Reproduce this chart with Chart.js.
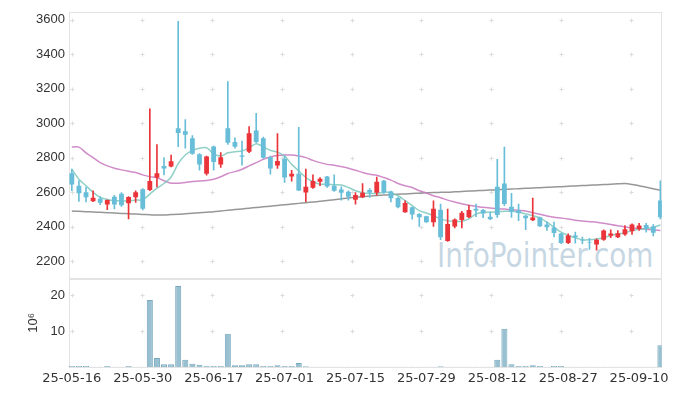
<!DOCTYPE html>
<html>
<head>
<meta charset="utf-8">
<script src="https://cdn.jsdelivr.net/npm/chart.js@4.4.1/dist/chart.umd.min.js"></script>
<style>
  html, body { margin: 0; padding: 0; background: #fff; }
  #wrap { position: relative; width: 673px; height: 396px; }
  #mark { position: absolute; left: 437px; top: 238px; font-family: "DejaVu Sans"; font-size: 34px; line-height: 34px;
          color: rgba(188, 208, 222, 0.85); transform: scaleX(0.82); transform-origin: 0 0; white-space: nowrap; }
  canvas { position: absolute; left: 0; top: 0; }
</style>
</head>
<body>
<div id="wrap">
  <div id="mark">InfoPointer.com</div>
  <canvas id="chart" width="673" height="396"></canvas>
</div>
<script>
// trading days, 2025
const dates = [
  '25-05-16', '25-05-19', '25-05-20', '25-05-21', '25-05-22', '25-05-23', '25-05-26', '25-05-27', '25-05-28', '25-05-29',
  '25-05-30', '25-06-02', '25-06-04', '25-06-05', '25-06-09', '25-06-10', '25-06-11', '25-06-12', '25-06-13', '25-06-16',
  '25-06-17', '25-06-18', '25-06-19', '25-06-20', '25-06-23', '25-06-24', '25-06-25', '25-06-26', '25-06-27', '25-06-30',
  '25-07-01', '25-07-02', '25-07-03', '25-07-04', '25-07-07', '25-07-08', '25-07-09', '25-07-10', '25-07-11', '25-07-14',
  '25-07-15', '25-07-16', '25-07-17', '25-07-18', '25-07-21', '25-07-22', '25-07-23', '25-07-24', '25-07-25', '25-07-28',
  '25-07-29', '25-07-30', '25-07-31', '25-08-01', '25-08-04', '25-08-05', '25-08-06', '25-08-07', '25-08-08', '25-08-11',
  '25-08-12', '25-08-13', '25-08-14', '25-08-18', '25-08-19', '25-08-20', '25-08-21', '25-08-22', '25-08-25', '25-08-26',
  '25-08-27', '25-08-28', '25-08-29', '25-09-01', '25-09-02', '25-09-03', '25-09-04', '25-09-05', '25-09-08', '25-09-09',
  '25-09-10', '25-09-11', '25-09-12', '25-09-15'
];

const opens = [
  2710, 2637, 2600, 2547, 2562, 2529, 2574, 2591, 2535, 2570,
  2617, 2612, 2683, 2752, 2748, 2970, 2953, 2913, 2819, 2706,
  2865, 2760, 2970, 2891, 2813, 2834, 2957, 2913, 2802, 2754,
  2792, 2690, 2706, 2598, 2625, 2660, 2690, 2637, 2616, 2602,
  2556, 2570, 2612, 2596, 2666, 2604, 2566, 2484, 2512, 2474,
  2460, 2426, 2498, 2317, 2401, 2439, 2454, 2504, 2496, 2458,
  2631, 2650, 2516, 2493, 2464, 2437, 2454, 2412, 2395, 2360,
  2305, 2349, 2322, 2309, 2297, 2324, 2347, 2339, 2355, 2374,
  2387, 2409, 2401, 2551
];
const highs = [
  2733, 2666, 2630, 2608, 2574, 2556, 2581, 2597, 2574, 2608,
  2621, 3083, 2876, 2800, 2815, 3590, 3020, 2928, 2823, 2809,
  2867, 2830, 3240, 2915, 2896, 2980, 3056, 2919, 2809, 2940,
  2809, 2727, 2976, 2733, 2700, 2685, 2692, 2700, 2631, 2608,
  2598, 2650, 2621, 2688, 2668, 2606, 2568, 2550, 2514, 2476,
  2462, 2550, 2531, 2502, 2445, 2489, 2523, 2531, 2500, 2485,
  2790, 2861, 2593, 2531, 2466, 2566, 2456, 2426, 2426, 2362,
  2358, 2368, 2339, 2332, 2330, 2382, 2382, 2378, 2407, 2416,
  2420, 2420, 2412, 2665
];
const lows = [
  2608, 2547, 2543, 2545, 2528, 2499, 2503, 2518, 2445, 2541,
  2497, 2608, 2631, 2700, 2746, 2863, 2855, 2819, 2727, 2698,
  2727, 2743, 2876, 2855, 2757, 2829, 2886, 2795, 2704, 2737,
  2656, 2664, 2608, 2545, 2621, 2637, 2628, 2604, 2554, 2554,
  2531, 2568, 2570, 2583, 2593, 2543, 2508, 2482, 2443, 2401,
  2424, 2401, 2324, 2315, 2393, 2393, 2452, 2458, 2452, 2441,
  2454, 2522, 2454, 2435, 2382, 2435, 2400, 2378, 2340, 2301,
  2301, 2305, 2301, 2268, 2264, 2320, 2336, 2336, 2349, 2355,
  2378, 2368, 2347, 2445
];
const closes = [
  2645, 2593, 2570, 2568, 2539, 2554, 2529, 2524, 2572, 2600,
  2504, 2664, 2710, 2737, 2779, 2943, 2932, 2823, 2760, 2806,
  2775, 2802, 2886, 2863, 2805, 2942, 2891, 2800, 2737, 2781,
  2685, 2706, 2610, 2631, 2664, 2677, 2633, 2608, 2597, 2574,
  2583, 2596, 2598, 2660, 2598, 2564, 2512, 2537, 2470, 2455,
  2426, 2504, 2339, 2416, 2441, 2481, 2496, 2493, 2477, 2443,
  2468, 2531, 2487, 2479, 2449, 2453, 2403, 2397, 2364, 2305,
  2349, 2339, 2318, 2305, 2324, 2378, 2361, 2362, 2385, 2412,
  2407, 2389, 2365, 2455
];

const ma5 = [
  2733, 2675, 2637, 2599, 2570, 2558, 2551, 2549, 2549, 2554,
  2556, 2589, 2623, 2650, 2688, 2765, 2815, 2842, 2855, 2857,
  2822, 2809, 2828, 2834, 2838, 2857, 2880, 2863, 2842, 2832,
  2809, 2761, 2723, 2685, 2660, 2646, 2646, 2643, 2641, 2627,
  2608, 2597, 2593, 2593, 2600, 2597, 2579, 2551, 2522, 2493,
  2479, 2464, 2445, 2435, 2431, 2431, 2445, 2474, 2483, 2483,
  2487, 2489, 2489, 2483, 2474, 2464, 2451, 2426, 2397, 2368,
  2349, 2336, 2324, 2324, 2328, 2336, 2349, 2359, 2364, 2378,
  2385, 2389, 2397, 2410
];
const ma20 = [
  2861, 2861, 2828, 2800, 2771, 2752, 2739, 2729, 2721, 2714,
  2700, 2690, 2685, 2666, 2652, 2652, 2656, 2662, 2664, 2668,
  2675, 2689, 2708, 2719, 2733, 2752, 2771, 2790, 2804, 2813,
  2815, 2815, 2809, 2800, 2784, 2771, 2761, 2756, 2748, 2739,
  2727, 2714, 2704, 2698, 2685, 2670, 2650, 2637, 2627, 2608,
  2595, 2579, 2568, 2554, 2543, 2533, 2524, 2518, 2512, 2508,
  2504, 2502, 2498, 2495, 2491, 2481, 2472, 2462, 2454, 2450,
  2445, 2437, 2433, 2429, 2426, 2420, 2412, 2405, 2399, 2393,
  2389, 2385, 2381, 2378
];
const ma60 = [
  2491, 2489, 2487, 2485, 2483, 2481, 2479, 2477, 2475, 2473,
  2471, 2469, 2467, 2468, 2470, 2472, 2475, 2478, 2481, 2484,
  2487, 2491, 2495, 2499, 2503, 2507, 2511, 2515, 2519, 2523,
  2527, 2531, 2535, 2539, 2543, 2547, 2551, 2556, 2561, 2566,
  2570, 2574, 2577, 2580, 2583, 2586, 2588, 2590, 2592, 2594,
  2596, 2598, 2599, 2600, 2602, 2604, 2606, 2608, 2610, 2612,
  2614, 2616, 2618, 2620, 2622, 2624, 2626, 2628, 2630, 2632,
  2634, 2636, 2638, 2640, 2642, 2644, 2646, 2648, 2650, 2645,
  2637, 2629, 2620, 2612
];

// volume, millions of shares
const volume = [
  0.3, 0.3, 0.3, 0.05, 0.05, 0.3, 0.05, 0.05, 0.3, 0.05,
  0.05, 18.7, 2.5, 0.8, 0.8, 22.6, 2.0, 0.9, 0.6, 0.3,
  0.3, 0.3, 9.3, 0.5, 0.5, 0.8, 0.8, 0.3, 0.3, 0.5,
  0.3, 0.3, 1.1, 0.2, 0.05, 0.05, 0.05, 0.05, 0.05, 0.05,
  0.05, 0.05, 0.05, 0.05, 0.05, 0.05, 0.05, 0.05, 0.05, 0.05,
  0.05, 0.05, 0.2, 0.05, 0.05, 0.05, 0.05, 0.05, 0.05, 0.05,
  2.0, 10.7, 0.8, 0.3, 0.3, 0.5, 0.3, 0.05, 0.3, 0.3,
  0.05, 0.05, 0.05, 0.05, 0.05, 0.05, 0.05, 0.05, 0.05, 0.05,
  0.05, 0.05, 0.05, 6.1
];

const priceTicks = [2200, 2400, 2600, 2800, 3000, 3200, 3400, 3600];
const volTicks = [10, 20];
const dateTicks = [0, 10, 20, 30, 40, 50, 60, 70, 80];

const UP = 'rgb(234, 52, 58)';
const DOWN = 'rgb(104, 190, 216)';
const candleColors = closes.map((c, i) => c >= opens[i] ? UP : DOWN);
const pts = arr => arr.map((v, i) => ({ x: i, y: v }));

// panel frames and the little "+" grid marks
const frames = {
  id: 'frames',
  beforeDatasetsDraw(chart) {
    const ctx = chart.ctx, area = chart.chartArea, xs = chart.scales.x;
    const py = chart.scales.y, vy = chart.scales.vol;
    ctx.save();
    ctx.lineWidth = 1;
    ctx.strokeStyle = '#e3e3e3';
    [py, vy].forEach(s => {
      ctx.strokeRect(Math.round(area.left) + 0.5, Math.round(s.top) + 0.5,
        Math.round(area.right - area.left) - 1, Math.round(s.bottom - s.top));
    });
    ctx.strokeStyle = '#dcdcdc';
    const rows = priceTicks.map(v => py.getPixelForValue(v)).concat(volTicks.map(v => vy.getPixelForValue(v)));
    for (let k = 0; k < 9; k++) {
      const x = Math.round(xs.getPixelForValue(k * 9.86)) + 0.5;
      rows.forEach(r => {
        const y = Math.round(r) + 0.5;
        ctx.beginPath();
        ctx.moveTo(x - 2, y); ctx.lineTo(x + 2, y);
        ctx.moveTo(x, y - 2); ctx.lineTo(x, y + 2);
        ctx.stroke();
      });
    }
    ctx.restore();
  }
};

const tickFont = { family: 'Liberation Sans', size: 13 };
const dateFont = { family: 'DejaVu Sans', size: 13 };

new Chart(document.getElementById('chart'), {
  data: {
    datasets: [
      {
        type: 'bar', label: 'body', yAxisID: 'y', order: 0,
        data: opens.map((o, i) => ({ x: i, y: [o, closes[i]] })),
        backgroundColor: candleColors, borderWidth: 0,
        barPercentage: 0.68, categoryPercentage: 1
      },
      {
        type: 'bar', label: 'wick', yAxisID: 'y', order: 1,
        data: lows.map((l, i) => ({ x: i, y: [l, highs[i]] })),
        backgroundColor: candleColors, borderWidth: 0, barThickness: 1
      },
      {
        type: 'line', label: 'MA5', yAxisID: 'y', order: 2, data: pts(ma5),
        borderColor: 'rgba(125, 200, 188, 0.85)', borderWidth: 1.5, pointRadius: 0, tension: 0.3
      },
      {
        type: 'line', label: 'MA20', yAxisID: 'y', order: 2, data: pts(ma20),
        borderColor: 'rgba(200, 120, 190, 0.85)', borderWidth: 1.5, pointRadius: 0, tension: 0.3
      },
      {
        type: 'line', label: 'MA60', yAxisID: 'y', order: 2, data: pts(ma60),
        borderColor: 'rgba(140, 140, 140, 0.9)', borderWidth: 1.5, pointRadius: 0, tension: 0.3
      },
      {
        type: 'bar', label: 'volume', yAxisID: 'vol', order: 3, data: pts(volume),
        backgroundColor: 'rgb(152, 192, 208)', borderColor: 'rgb(120, 168, 190)', borderWidth: 1,
        barPercentage: 0.85, categoryPercentage: 1
      }
    ]
  },
  options: {
    responsive: false,
    animation: false,
    devicePixelRatio: 1,
    layout: { padding: { top: 10, right: 10, left: 0, bottom: 0 } },
    datasets: { bar: { grouped: false } },
    plugins: { legend: { display: false }, tooltip: { enabled: false } },
    scales: {
      x: {
        type: 'linear', position: 'bottom', min: -0.4, max: 83.2, offset: false,
        grid: { display: false, drawTicks: false }, border: { display: false },
        ticks: { padding: 4, color: '#333', font: dateFont, maxRotation: 0, autoSkip: false,
                 callback: v => dates[v] },
        afterBuildTicks: a => { a.ticks = dateTicks.map(v => ({ value: v })); },
        afterFit: a => { a.height = 29; }
      },
      y: {
        type: 'linear', position: 'left', stack: 'panes', stackWeight: 268, weight: 1,
        min: 2100, max: 3645,
        grid: { display: false, drawTicks: false }, border: { display: false },
        ticks: { padding: 4, color: '#333', font: tickFont, callback: v => String(v) },
        afterBuildTicks: a => { a.ticks = priceTicks.map(v => ({ value: v })); },
        afterFit: a => { a.width = 69; }
      },
      vol: {
        type: 'linear', position: 'left', stack: 'panes', stackWeight: 89, weight: 0,
        min: 0, max: 24.7,
        grid: { display: false, drawTicks: false }, border: { display: false },
        ticks: { padding: 4, color: '#333', font: tickFont, callback: v => String(v) },
        title: { display: true, text: '10⁶', color: '#333', font: tickFont, padding: { top: 26, bottom: 0 } },
        afterBuildTicks: a => { a.ticks = volTicks.map(v => ({ value: v })); },
        afterFit: a => { a.width = 69; }
      }
    }
  },
  plugins: [frames]
});
</script>
</body>
</html>
